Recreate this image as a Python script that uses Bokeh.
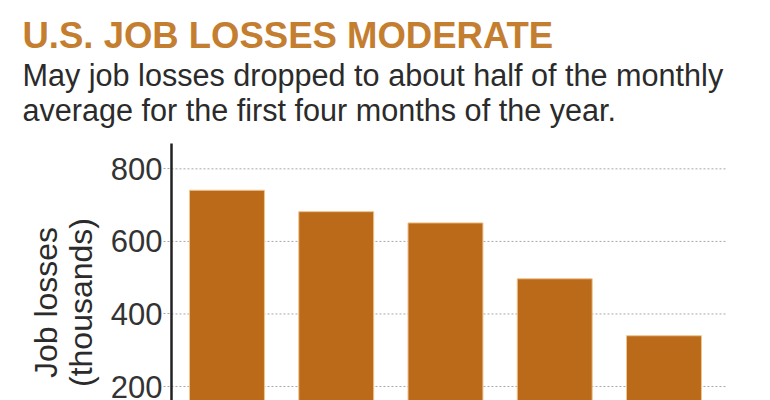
import math

from bokeh.embed import file_html
from bokeh.models import ColumnDataSource, FixedTicker, Label, LinearAxis, Range1d
from bokeh.plotting import figure
from bokeh.resources import INLINE

# Monthly U.S. job losses, thousands
months = ["Jan", "Feb", "Mar", "Apr", "May"]
job_losses = [741, 682, 651, 497, 340]
y_ticks = [200, 400, 600, 800]

title_text = "U.S. JOB LOSSES MODERATE"
subtitle_lines = [
    "May job losses dropped to about half of the monthly",
    "average for the first four months of the year.",
]
y_label_lines = ["Job losses", "(thousands)"]

BAR_COLOR = "#BA6A18"
TITLE_COLOR = "#C47E30"
TEXT_COLOR = "#2b2b2b"
GRID_COLOR = "#a8a8a8"

W, H = 770, 400

# The plotting frame covers the whole canvas; the value axis sits inside it
# at a fixed x position, and the chart area spans from there to GRID_END.
X_START, X_END = -2.073, 4.975
AXIS_X, GRID_END = -0.508, 4.581
Y_START, Y_END = 161.5, 1264
AXIS_TOP = 870

source = ColumnDataSource(dict(x=list(range(len(months))), month=months, losses=job_losses))

p = figure(
    width=W, height=H,
    output_backend="svg", toolbar_location=None, title=None,
    x_range=Range1d(X_START, X_END), y_range=Range1d(Y_START, Y_END),
    x_axis_location=None, y_axis_location=None,
    min_border=0,
)
p.outline_line_color = None
p.background_fill_color = "white"
p.border_fill_color = "white"
p.grid.visible = False

# dotted horizontal guides at each tick, from the axis to the right edge of the chart area
grid_src = ColumnDataSource(dict(
    x0=[AXIS_X] * len(y_ticks), x1=[GRID_END] * len(y_ticks), y=y_ticks))
p.segment(x0="x0", y0="y", x1="x1", y1="y", source=grid_src,
          line_color=GRID_COLOR, line_dash="2 2", line_width=1)

p.vbar(x="x", top="losses", bottom=0, width=0.686, source=source,
       fill_color=BAR_COLOR, line_color="#EFC48E", line_width=1)

yax = LinearAxis(fixed_location=AXIS_X, bounds=(Y_START, AXIS_TOP))
yax.ticker = FixedTicker(ticks=y_ticks)
yax.axis_line_color = "#222222"
yax.axis_line_width = 2.5
yax.major_tick_out = 8
yax.major_tick_in = 0
yax.major_tick_line_color = "#a8a8a8"
yax.major_tick_line_dash = "2 2"
yax.minor_tick_line_color = None
yax.major_label_standoff = 1
yax.major_label_text_font = "Liberation Sans"
yax.major_label_text_font_size = "31px"
yax.major_label_text_color = "#333333"
p.add_layout(yax, "left")


def canvas_xy(cx, cy):
    """Canvas pixel position (from top-left) -> screen units (from bottom-left)."""
    return cx, H - cy


tx, ty = canvas_xy(22, 35)
p.add_layout(Label(x=tx, y=ty, x_units="screen", y_units="screen", text=title_text,
                   text_font="Liberation Sans", text_font_style="bold",
                   text_font_size="36.5px", text_color=TITLE_COLOR,
                   text_align="left", text_baseline="alphabetic"))

for line, base in zip(subtitle_lines, [74, 109]):
    sx, sy = canvas_xy(22, base)
    p.add_layout(Label(x=sx, y=sy, x_units="screen", y_units="screen", text=line,
                       text_font="Liberation Sans", text_font_size="30.6px",
                       text_color=TEXT_COLOR, text_align="left",
                       text_baseline="alphabetic"))

for line, base_x in zip(y_label_lines, [45.5, 80.5]):
    lx, ly = canvas_xy(base_x, 302)
    p.add_layout(Label(x=lx, y=ly, x_units="screen", y_units="screen", text=line,
                       angle=math.pi / 2, text_font="Liberation Sans",
                       text_font_size="32px", text_color=TEXT_COLOR,
                       text_align="center", text_baseline="alphabetic"))

open("out.html", "w").write(file_html(p, INLINE))
